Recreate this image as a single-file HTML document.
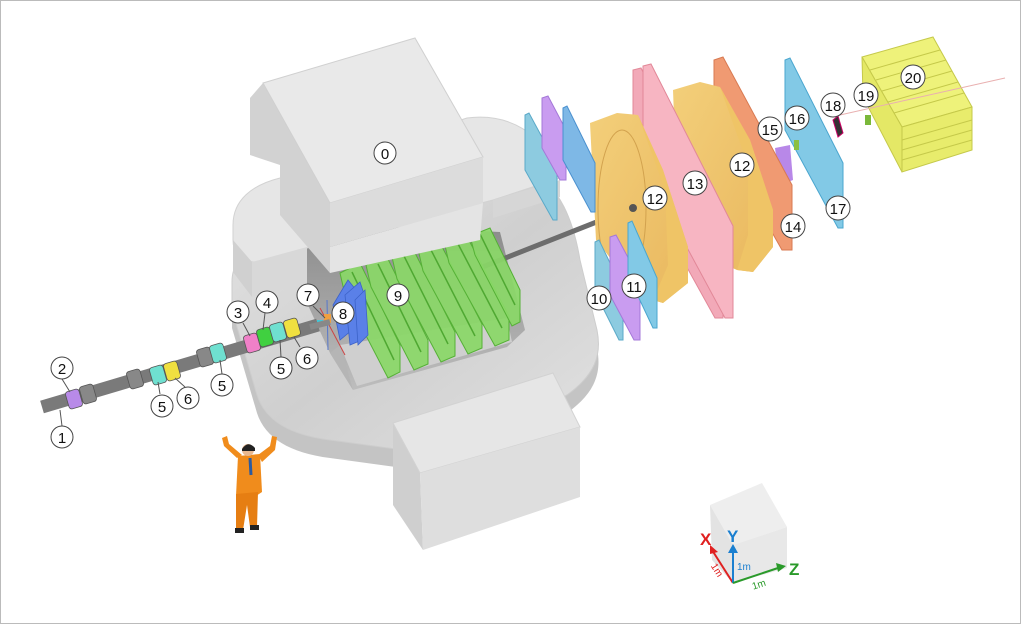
<!DOCTYPE html>
<html><head><meta charset="utf-8"><style>
html,body{margin:0;padding:0;background:#fff}
svg{display:block}
text{font-family:"Liberation Sans",sans-serif}
</style></head><body>
<svg width="1021" height="624" viewBox="0 0 1021 624" xmlns="http://www.w3.org/2000/svg">
<defs>
<linearGradient id="hole" x1="0" y1="0" x2="0" y2="1"><stop offset="0" stop-color="#8a8a8a"/><stop offset="1" stop-color="#bdbdbd"/></linearGradient>
<linearGradient id="ringg" x1="0" y1="0" x2="1" y2="1"><stop offset="0" stop-color="#e4e4e4"/><stop offset="0.5" stop-color="#cfcfcf"/><stop offset="1" stop-color="#e2e2e2"/></linearGradient>
<linearGradient id="oct" x1="0" y1="0" x2="1" y2="1"><stop offset="0" stop-color="#f3cf7a"/><stop offset="1" stop-color="#e9b75e"/></linearGradient>
</defs>
<rect x="0.5" y="0.5" width="1020" height="623" fill="#fff" stroke="#bbb"/>

<!-- lower ring side -->
<path d="M232,300 C232,282 240,275 252,272 L527,198 C560,193 575,248 580,278 L597,348 C602,373 595,393 567,413 L440,473 L330,458 C290,453 265,438 257,413 L232,328 Z" fill="#c4c4c4"/>
<!-- lower ring top -->
<path d="M232,282 C232,265 240,258 252,255 L527,180 C560,175 575,230 580,260 L597,330 C602,355 595,375 567,395 L440,455 L330,440 C290,435 265,420 257,395 L232,310 Z" fill="url(#ringg)" stroke="#cdcdcd"/>
<!-- hole -->
<polygon points="307,223 500,232 525,330 507,347 353,390 330,353 307,303" fill="url(#hole)"/>
<polygon points="340,345 507,318 512,342 357,386" fill="#cfcfcf"/>
<polygon points="330,353 353,390 340,345" fill="#b5b5b5"/>

<!-- pipe right -->
<line x1="480" y1="268" x2="632" y2="208" stroke="#6d6d6d" stroke-width="5"/>

<!-- green plates -->
<g fill="#8ad867" fill-opacity="0.92" stroke="#55b036" stroke-width="1">
<polygon points="340,273 360,263 400,345 400,372 388,378 345,295"/>
<polygon points="366,265 386,255 428,340 428,364 414,370 371,287"/>
<polygon points="392,257 412,247 455,332 455,356 441,362 397,279"/>
<polygon points="418,249 438,239 482,324 482,348 468,354 423,271"/>
<polygon points="444,241 464,231 509,316 509,340 495,346 449,263"/>
<polygon points="470,236 490,228 520,290 520,322 512,326 475,255"/>
</g>
<g stroke="#4fa832" stroke-width="1.5" fill="none">
<line x1="352" y1="272" x2="394" y2="360"/><line x1="378" y1="264" x2="421" y2="352"/>
<line x1="404" y1="256" x2="448" y2="344"/><line x1="430" y1="248" x2="475" y2="336"/>
<line x1="456" y1="240" x2="502" y2="328"/><line x1="480" y1="234" x2="515" y2="305"/>
</g>
<!-- blue 8 fins -->
<g fill="#5a80e8" stroke="#3c62c8" stroke-width="0.8">
<polygon points="333,305 348,280 356,290 352,330 340,340"/>
<polygon points="345,295 360,282 366,300 362,340 350,345"/>
<polygon points="355,300 365,290 368,335 358,345"/>
</g>
<line x1="320" y1="308" x2="345" y2="355" stroke="#c44" stroke-width="1"/>
<line x1="327" y1="300" x2="328" y2="350" stroke="#57c" stroke-width="1"/>
<rect x="324" y="314" width="7" height="9" fill="#f0a040"/>
<rect x="317" y="320" width="6" height="6" fill="#40c8d8"/>

<!-- upper slab -->
<path d="M233,225 C233,200 252,185 280,178 L467,118 C515,112 548,140 560,178 L493,200 L307,248 L255,262 C240,262 233,252 233,240 Z" fill="#e6e6e6" stroke="#d2d2d2"/>
<polygon points="233,240 252,262 252,297 233,272" fill="#d0d0d0"/>
<polygon points="252,262 307,247 307,283 252,297" fill="#d8d8d8"/>
<polygon points="493,200 560,180 560,197 493,218" fill="#d6d6d6"/>

<!-- top box 0 -->
<polygon points="250,98 263,83 330,203 330,273 280,215 280,165 250,155" fill="#d2d2d2"/>
<polygon points="263,83 415,38 483,157 330,203" fill="#e9e9e9" stroke="#d0d0d0"/>
<polygon points="330,203 483,157 483,203 330,247" fill="#dcdcdc"/>
<polygon points="330,247 483,203 480,240 330,273" fill="#e4e4e4"/>

<!-- bottom box -->
<polygon points="393,423 420,473 423,550 393,505" fill="#cfcfcf"/>
<polygon points="393,423 553,373 580,427 420,473" fill="#e6e6e6" stroke="#d2d2d2"/>
<polygon points="420,473 580,427 580,497 423,550" fill="#dedede"/>

<!-- box 20 -->
<polygon points="862,57 933,37 972,107 902,127" fill="#eef27a" stroke="#c5c94a"/>
<polygon points="862,57 902,127 902,172 863,97" fill="#e4e866" stroke="#c5c94a"/>
<polygon points="902,127 972,107 972,150 902,172" fill="#e8ec6c" stroke="#c5c94a"/>
<g stroke="#c5c94a"><line x1="870" y1="70" x2="940" y2="50"/><line x1="876" y1="80" x2="946" y2="60"/><line x1="882" y1="91" x2="952" y2="71"/><line x1="888" y1="102" x2="958" y2="82"/><line x1="894" y1="113" x2="964" y2="93"/>
<line x1="902" y1="140" x2="972" y2="120"/><line x1="902" y1="150" x2="972" y2="130"/><line x1="902" y1="160" x2="972" y2="140"/></g>
<line x1="840" y1="115" x2="1005" y2="78" stroke="#e9b0b0"/>
<rect x="865" y="115" width="6" height="10" fill="#7ab83a"/>
<polygon points="833,120 838,116 843,133 838,137" fill="#333" stroke="#c06"/>
<!-- 17 -->
<polygon points="785,60 790,58 843,163 843,228 838,228 785,130" fill="#82c9e6" stroke="#4aa6cf"/>
<polygon points="775,148 790,145 793,180 780,185" fill="#b888e8"/>
<rect x="794" y="140" width="5" height="10" fill="#8cc040"/>
<!-- 14 -->
<polygon points="714,60 723,57 792,185 792,250 782,250 714,130" fill="#f09a72" stroke="#d87a52"/>
<!-- octagon 2 -->
<polygon points="673,90 700,82 720,87 750,140 773,210 773,247 753,272 737,270 693,250 676,170" fill="url(#oct)"/>
<polygon points="720,87 750,140 773,210 773,247 753,272 737,270 748,235 748,165" fill="#efc466"/>
<!-- pink 13 -->
<polygon points="633,70 641,68 723,230 723,318 715,318 633,170" fill="#f2a9b8" stroke="#e28898"/>
<polygon points="643,66 651,64 733,226 733,318 725,318 643,166" fill="#f7b5c2" stroke="#e28898"/>
<!-- octagon 1 -->
<polygon points="590,123 617,113 638,115 663,170 688,247 688,283 663,303 653,300 630,283 596,240" fill="url(#oct)"/>
<polygon points="638,115 663,170 688,247 688,283 663,303 653,300 668,265 665,190" fill="#efc466"/>
<ellipse cx="622" cy="208" rx="24" ry="78" fill="none" stroke="#d2a24e"/>
<circle cx="633" cy="208" r="4" fill="#555"/>
<!-- left top panels -->
<polygon points="525,115 529,113 557,165 557,220 553,220 525,170" fill="#8dcbe0" stroke="#5aa9c8"/>
<polygon points="542,98 548,96 566,130 566,180 560,180 542,148" fill="#c99cf0" stroke="#a478d8"/>
<polygon points="563,108 567,106 595,163 595,212 591,212 563,160" fill="#7eb8e6" stroke="#4a90cf"/>
<!-- bottom panels 10/11 -->
<polygon points="595,242 599,240 623,290 623,340 619,340 595,292" fill="#8dcbe0" stroke="#5aa9c8"/>
<polygon points="610,237 616,235 640,280 640,340 634,340 610,295" fill="#c99cf0" stroke="#a478d8"/>
<polygon points="628,223 632,221 657,278 657,328 653,328 628,275" fill="#82c9e6" stroke="#4aa6cf"/>

<!-- beamline -->
<line x1="42" y1="407" x2="318" y2="325" stroke="#7a7a7a" stroke-width="13"/>
<line x1="310" y1="327" x2="330" y2="322" stroke="#888" stroke-width="6"/>
<g stroke="#555" stroke-width="0.8">
<rect x="67" y="390" width="14" height="18" rx="3" fill="#b88ae8" transform="rotate(-16 74 399)"/>
<rect x="81" y="385" width="14" height="18" rx="3" fill="#888" transform="rotate(-16 88 394)"/>
<rect x="128" y="370" width="14" height="18" rx="3" fill="#888" transform="rotate(-16 135 379)"/>
<rect x="151" y="366" width="14" height="18" rx="3" fill="#6fe0d0" transform="rotate(-16 158 375)"/>
<rect x="165" y="362" width="14" height="18" rx="3" fill="#f0e040" transform="rotate(-16 172 371)"/>
<rect x="198" y="348" width="14" height="18" rx="3" fill="#888" transform="rotate(-16 205 357)"/>
<rect x="211" y="344" width="14" height="18" rx="3" fill="#6fe0d0" transform="rotate(-16 218 353)"/>
<rect x="245" y="334" width="14" height="18" rx="3" fill="#f080c8" transform="rotate(-16 252 343)"/>
<rect x="258" y="328" width="14" height="18" rx="3" fill="#40d040" transform="rotate(-16 265 337)"/>
<rect x="271" y="323" width="14" height="18" rx="3" fill="#6fe0d0" transform="rotate(-16 278 332)"/>
<rect x="285" y="319" width="14" height="18" rx="3" fill="#f0e040" transform="rotate(-16 292 328)"/>
</g>
<g stroke="#555" stroke-width="1">
<line x1="62" y1="426" x2="60" y2="410"/><line x1="62" y1="379" x2="70" y2="392"/>
<line x1="160" y1="394" x2="158" y2="382"/><line x1="185" y1="387" x2="175" y2="378"/>
<line x1="222" y1="374" x2="220" y2="360"/><line x1="243" y1="323" x2="250" y2="336"/>
<line x1="265" y1="313" x2="263" y2="330"/><line x1="281" y1="357" x2="280" y2="340"/>
<line x1="300" y1="347" x2="294" y2="337"/><line x1="313" y1="306" x2="325" y2="318"/>
</g>

<!-- person -->
<g>
<polygon points="237,458 224,446 222,438 227,436 229,444 242,455" fill="#f08c1c"/>
<polygon points="258,455 270,446 272,436 277,437 275,450 262,462" fill="#f08c1c"/>
<polygon points="238,456 260,454 262,492 256,496 236,496" fill="#f08c1c"/>
<polygon points="236,494 258,492 257,527 250,527 247,505 243,530 236,530" fill="#e67e12"/>
<line x1="250" y1="458" x2="251" y2="475" stroke="#2a5aa0" stroke-width="3"/>
<circle cx="248" cy="450" r="6" fill="#e8b890"/>
<path d="M242,449 Q248,440 255,448 L255,451 L242,451 Z" fill="#222"/>
<rect x="235" y="528" width="9" height="5" fill="#222"/><rect x="250" y="525" width="9" height="5" fill="#222"/>
</g>

<!-- scale cube -->
<polygon points="710,505 762,483 787,527 733,545" fill="#eeeeee"/>
<polygon points="710,505 733,545 733,583 712,560" fill="#e3e3e3"/>
<polygon points="733,545 787,527 787,568 733,583" fill="#e8e8e8"/>
<g stroke-width="2">
<line x1="733" y1="583" x2="712" y2="550" stroke="#e02020"/>
<line x1="733" y1="583" x2="733" y2="552" stroke="#1a7fd0"/>
<line x1="733" y1="583" x2="778" y2="568" stroke="#2a9a2a"/>
</g>
<polygon points="710,545 718,552 710,554" fill="#e02020"/>
<polygon points="728,553 733,544 738,553" fill="#1a7fd0"/>
<polygon points="776,563 786,566 778,572" fill="#2a9a2a"/>
<text x="700" y="545" font-size="17" font-weight="bold" fill="#e02020">X</text>
<text x="727" y="542" font-size="17" font-weight="bold" fill="#1a7fd0">Y</text>
<text x="789" y="575" font-size="17" font-weight="bold" fill="#2a9a2a">Z</text>
<text x="737" y="570" font-size="10" fill="#1a7fd0">1m</text>
<text x="706" y="570" font-size="10" fill="#e02020" transform="rotate(58 712 572)">1m</text>
<text x="752" y="588" font-size="10" fill="#2a9a2a" transform="rotate(-18 758 585)">1m</text>

<!-- labels -->
<g font-size="15" text-anchor="middle" fill="#111">
<g stroke="#444" stroke-width="1" fill="#fff">
<circle cx="385" cy="153" r="11"/><circle cx="62" cy="437" r="11"/><circle cx="62" cy="368" r="11"/>
<circle cx="162" cy="406" r="11"/><circle cx="188" cy="398" r="11"/><circle cx="222" cy="385" r="11"/>
<circle cx="238" cy="312" r="11"/><circle cx="267" cy="302" r="11"/><circle cx="281" cy="368" r="11"/>
<circle cx="307" cy="358" r="11"/><circle cx="308" cy="295" r="11"/><circle cx="343" cy="313" r="11"/>
<circle cx="398" cy="295" r="11"/><circle cx="599" cy="298" r="12"/><circle cx="634" cy="286" r="12"/>
<circle cx="655" cy="198" r="12"/><circle cx="695" cy="183" r="12"/><circle cx="742" cy="165" r="12"/>
<circle cx="793" cy="226" r="12"/><circle cx="770" cy="129" r="12"/><circle cx="797" cy="118" r="12"/>
<circle cx="838" cy="208" r="12"/><circle cx="833" cy="105" r="12"/><circle cx="866" cy="95" r="12"/>
<circle cx="913" cy="77" r="12"/>
</g>
<text x="385" y="159">0</text><text x="62" y="443">1</text><text x="62" y="374">2</text>
<text x="162" y="412">5</text><text x="188" y="404">6</text><text x="222" y="391">5</text>
<text x="238" y="318">3</text><text x="267" y="308">4</text><text x="281" y="374">5</text>
<text x="307" y="364">6</text><text x="308" y="301">7</text><text x="343" y="319">8</text>
<text x="398" y="301">9</text><text x="599" y="304">10</text><text x="634" y="292">11</text>
<text x="655" y="204">12</text><text x="695" y="189">13</text><text x="742" y="171">12</text>
<text x="793" y="232">14</text><text x="770" y="135">15</text><text x="797" y="124">16</text>
<text x="838" y="214">17</text><text x="833" y="111">18</text><text x="866" y="101">19</text>
<text x="913" y="83">20</text>
</g>
</svg>
</body></html>
